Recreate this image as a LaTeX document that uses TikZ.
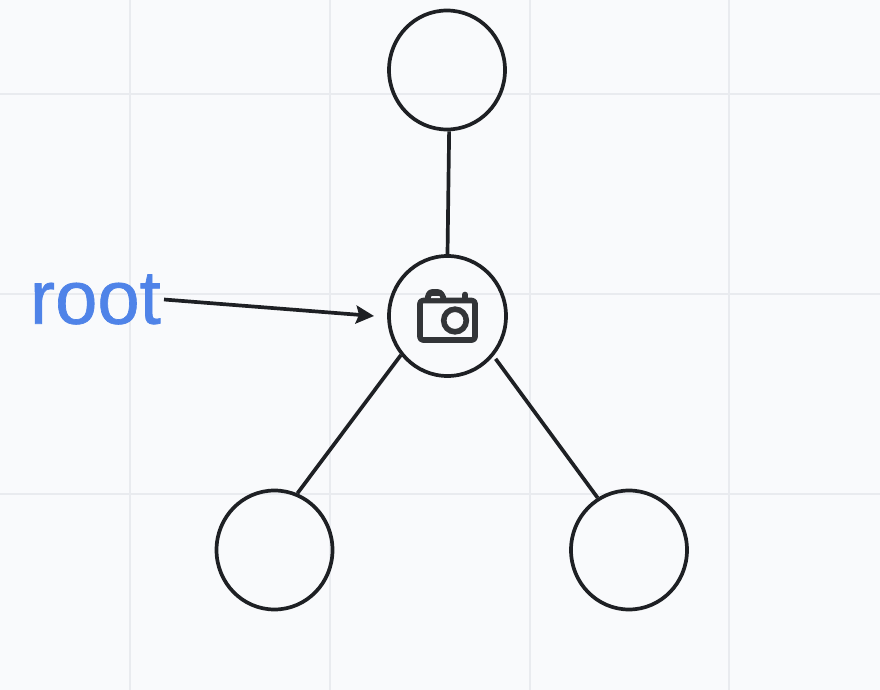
\documentclass[tikz,border=0pt]{standalone}
\usepackage{fontspec}
\setmainfont{Liberation Sans}
\newfontfamily\labelfont[BoldFont={Liberation Sans},BoldFeatures={FakeBold=0.9}]{Liberation Sans}
\usetikzlibrary{arrows.meta,shapes.geometric}
\definecolor{bgc}{HTML}{F9FAFC}
\definecolor{gridc}{HTML}{E9EBEF}
\definecolor{inkc}{HTML}{1E2024}
\definecolor{iconc}{HTML}{333538}
\definecolor{labelc}{HTML}{4F83E8}
\tikzset{
  treenode/.style={ellipse,draw=inkc,line width=3.7pt,minimum width=116pt,minimum height=119pt,inner sep=0pt},
  edge/.style={draw=inkc,line width=3.7pt},
  gridline/.style={draw=gridc,line width=1.6pt},
  pointer/.style={draw=inkc,line width=3.7pt,-{Stealth[length=18pt,width=18pt,inset=3pt]}},
  iconline/.style={draw=iconc,line width=5.6pt,line join=round,line cap=round}
}
\begin{document}
\begin{tikzpicture}[x=1pt,y=-1pt]
\useasboundingbox (0,0) rectangle (880,690);
\fill[bgc] (0,0) rectangle (880,690);
\foreach \gx in {130,330,530,729} \draw[gridline] (\gx,0) -- (\gx,690);
\foreach \gy in {94,294,494} \draw[gridline] (0,\gy) -- (880,\gy);

\node[treenode] (top) at (447,70) {};
\node[treenode,minimum width=117pt,minimum height=120pt] (center) at (447.5,316) {};
\node[treenode] (left) at (274.5,550) {};
\node[treenode] (right) at (629,550) {};

\draw[edge] (top.272) -- (center.90);
\draw[edge] (center.220) -- (left.68);
\draw[edge,shorten <=3.5pt] (center.-41) -- (right.121);

\node[anchor=east,inner xsep=3pt,inner ysep=0pt,text=labelc,font=\labelfont\bfseries\fontsize{76}{76}\selectfont] (rootlabel) at (164,299.5) {root};
\coordinate (pointertip) at (374,316);
\draw[pointer] (rootlabel.east) -- (pointertip);

% camera icon
\draw[iconline,rounded corners=3pt] (420,300.5) rectangle (475,340);
\draw[iconline,fill=iconc,rounded corners=2.5pt] (427.5,298) -- (429.5,292) -- (440.5,292) -- (443.5,298);
\fill[bgc] (431.5,296.2) -- (439.5,296.2) -- (440.2,298) -- (431,298) -- cycle;
\draw[iconline] (465,294.5) -- (465,298);
\draw[draw=iconc,line width=5.6pt] (455,320.5) circle (11.3);
\end{tikzpicture}
\end{document}
